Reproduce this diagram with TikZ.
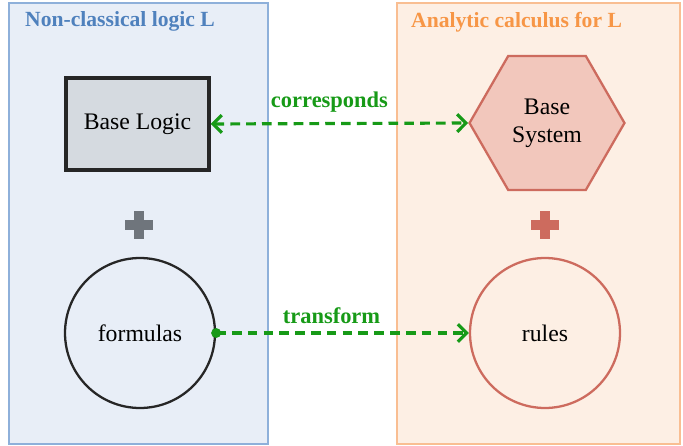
\documentclass[tikz,border=0pt]{standalone}
\usepackage{fontspec}
\setmainfont{Liberation Serif}
\usepackage{tikz}
\usetikzlibrary{shapes.geometric,arrows.meta}
\definecolor{leftfill}{HTML}{E8EEF7}
\definecolor{leftline}{HTML}{8EB0DA}
\definecolor{lefttitle}{HTML}{4F81BD}
\definecolor{rightfill}{HTML}{FDEFE4}
\definecolor{rightline}{HTML}{F9BE92}
\definecolor{righttitle}{HTML}{F79646}
\definecolor{baselogic}{HTML}{D5DAE0}
\definecolor{hexfill}{HTML}{F2C7BC}
\definecolor{hexline}{HTML}{CD6B5E}
\definecolor{arrowgreen}{HTML}{179A17}
\definecolor{plusgray}{HTML}{6F757C}
\tikzset{
  panel/.style={line width=1pt},
  paneltitle/.style={anchor=west, font=\bfseries\fontsize{12.3}{14}\selectfont},
  greenarrow/.style={arrowgreen, line width=1.8pt, dash pattern=on 5.5pt off 3.5pt,
    arrows={-Straight Barb[length=5pt,width=10pt,line width=1.8pt]}},
  arrowlabel/.style={text=arrowgreen, font=\bfseries\fontsize{12.8}{15}\selectfont},
  bodytext/.style={font=\fontsize{13.5}{16}\selectfont},
  bigcircle/.style={circle, minimum size=3cm, line width=1.3pt, bodytext}
}
\newcommand{\plusmark}[3]{% centre x, centre y, colour
  \fill[#3] (#1-14,#2-5) rectangle (#1+14,#2+5);
  \fill[#3] (#1-5,#2-14) rectangle (#1+5,#2+14);
}
\begin{document}
\begin{tikzpicture}[x=0.02cm, y=-0.02cm]
  \useasboundingbox (0,0) rectangle (683,446);

  % panels
  \draw[panel, fill=leftfill, draw=leftline] (9,3) rectangle (268,444);
  \draw[panel, fill=rightfill, draw=rightline] (397,3) rectangle (680,444);
  \node[paneltitle, text=lefttitle] (lefttitle) at (19,21) {Non-classical logic L};
  \node[paneltitle, text=righttitle] (righttitle) at (405,22) {Analytic calculus for L};

  % base parts
  \node[draw=black!85, fill=baselogic, line width=2pt, minimum width=2.86cm,
    minimum height=1.84cm, bodytext] (baselogic) at (137.5,124) {Base Logic};
  \node[regular polygon, regular polygon sides=6, minimum size=3.1cm, inner sep=0pt,
    draw=hexline, fill=hexfill, line width=1.3pt, bodytext, align=center]
    (basesystem) at (547,123) {Base\\System};

  % plus signs
  \plusmark{139}{225}{plusgray}
  \plusmark{545}{225}{hexline}

  % extensions
  \node[bigcircle, draw=black!85] (formulas) at (140,333) {formulas};
  \node[bigcircle, draw=hexline] (rules) at (545,333) {rules};

  % connections
  \draw[greenarrow, arrows={Straight Barb[length=5pt,width=10pt,line width=1.8pt]-Straight Barb[length=5pt,width=10pt,line width=1.8pt]}]
    (baselogic.east) -- node[arrowlabel, above=2pt, xshift=-0.2cm] (corresponds) {corresponds} (basesystem.west);
  \fill[arrowgreen] (formulas.east) circle (5);
  \draw[greenarrow] (formulas.east) -- node[arrowlabel, above=1pt, xshift=-0.22cm] (transform) {transform} (rules.west);
\end{tikzpicture}
\end{document}
